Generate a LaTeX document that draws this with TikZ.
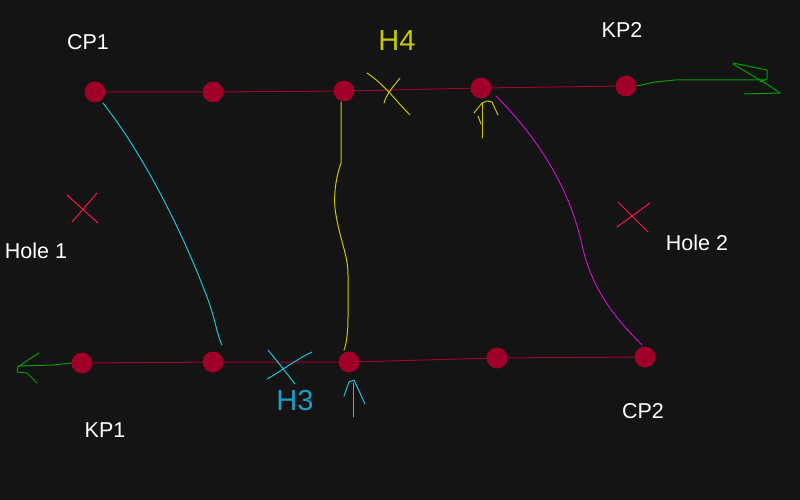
\documentclass[tikz,border=0pt]{standalone}
\usepackage{fontspec}
\setmainfont{Liberation Sans}
\begin{document}
\begin{tikzpicture}[x=1pt,y=-1pt,line join=round,line cap=round,
  dot/.style={circle,fill=dotred,inner sep=0pt,minimum size=21pt},
  lbl/.style={text=white,font=\fontsize{21.5}{24}\selectfont,inner sep=0pt},
  big/.style={font=\fontsize{29}{32}\selectfont,inner sep=0pt},
  redline/.style={draw=dotred,line width=1pt},
  pen/.style={line width=1pt}]
\definecolor{bg}{HTML}{141414}
\definecolor{dotred}{HTML}{A00028}
\definecolor{xred}{HTML}{FF1548}
\definecolor{cy}{HTML}{18C4D8}
\definecolor{cytext}{HTML}{1AA0C8}
\definecolor{yl}{HTML}{C8C800}
\definecolor{mg}{HTML}{C810C8}
\definecolor{gr}{HTML}{00A000}
\fill[bg] (0,0) rectangle (800,500);
\useasboundingbox (0,0) rectangle (800,500);
% top dots
\node[dot] (t1) at (95,92) {};
\node[dot] (t2) at (213,92) {};
\node[dot] (t3) at (344,91) {};
\node[dot] (t4) at (481,88) {};
\node[dot] (t5) at (626,86) {};
% bottom dots
\node[dot] (b1) at (82,363) {};
\node[dot] (b2) at (213,362) {};
\node[dot] (b3) at (349,362) {};
\node[dot] (b4) at (497,358) {};
\node[dot] (b5) at (645,357) {};
% red lines
\draw[redline] (t1) -- (t2) -- (t3) -- (t4) -- (t5);
\draw[redline] (b1) -- (b2) -- (b3) -- (b4) -- (b5);
% green arrows
\coordinate (gr1) at (765,80);
\draw[gr,pen] (t5.east) -- (655,82) -- (675,80) -- (gr1);
\draw[gr,pen] (733,63) -- (767,70) -- (767,79) -- (760,82);
\draw[gr,pen] (733,64) -- (770,86) -- (780,93);
\draw[gr,pen] (744,94) -- (780,93);
\coordinate (gl1) at (18,366);
\draw[gr,pen] (b1.west) -- (53,365) -- (gl1);
\draw[gr,pen] (39,353) -- (28,360) -- (18,367) -- (17,372) -- (27,373) -- (37,383);
% connecting curves
\coordinate (c1s) at (103,103);
\coordinate (c1e) at (222,345);
\draw[cy,pen] (c1s) .. controls (140,150) and (180,225) .. (207,297) .. controls (215,318) and (217,335) .. (c1e);
\coordinate (ys) at (341,102);
\coordinate (ye) at (344,350);
\draw[yl,pen] (ys) -- (341,163) .. controls (335,180) and (333,200) .. (336,215) .. controls (340,240) and (348,255) .. (348,275) -- (348,317) .. controls (348,335) and (346,345) .. (ye);
\coordinate (ms) at (496,96);
\coordinate (me) at (642,345);
\draw[mg,pen] (ms) .. controls (540,140) and (570,190) .. (582,245) .. controls (592,290) and (615,318) .. (me);
% crosses
\draw[xred,pen] (67,195) -- (98,223);
\draw[xred,pen] (97,193) -- (72,222);
\draw[xred,pen] (618,202) -- (648,232);
\draw[xred,pen] (650,203) -- (617,227);
\draw[yl,pen] (367,73) .. controls (385,85) and (395,100) .. (410,115);
\draw[yl,pen] (400,78) .. controls (392,88) and (386,95) .. (384,103);
\draw[cy,pen] (268,350) .. controls (278,362) and (288,375) .. (295,384);
\draw[cy,pen] (312,352) .. controls (295,360) and (280,372) .. (267,379);
% small arrows
\draw[yl,pen] (482,138) -- (482,103);
\draw[yl,pen] (478,116) -- (481,124);
\draw[yl,pen] (474,113) -- (482,103) -- (487,101) -- (492,102) -- (498,115);
\draw[cy,pen] (353,417) -- (353,383);
\draw[cy,pen] (344,396) -- (349,382) -- (354,380) -- (365,404);
% labels
\node[lbl] (lcp1) at (88,42) {CP1};
\node[big,text=yl] (lh4) at (397,41) {H4};
\node[lbl] (lkp2) at (622,30) {KP2};
\node[lbl] (lh1) at (36,251) {Hole 1};
\node[lbl] (lh2) at (697,243) {Hole 2};
\node[lbl] (lkp1) at (105,430) {KP1};
\node[big,text=cytext] (lh3) at (295,401) {H3};
\node[lbl] (lcp2) at (643,411) {CP2};
\end{tikzpicture}
\end{document}
